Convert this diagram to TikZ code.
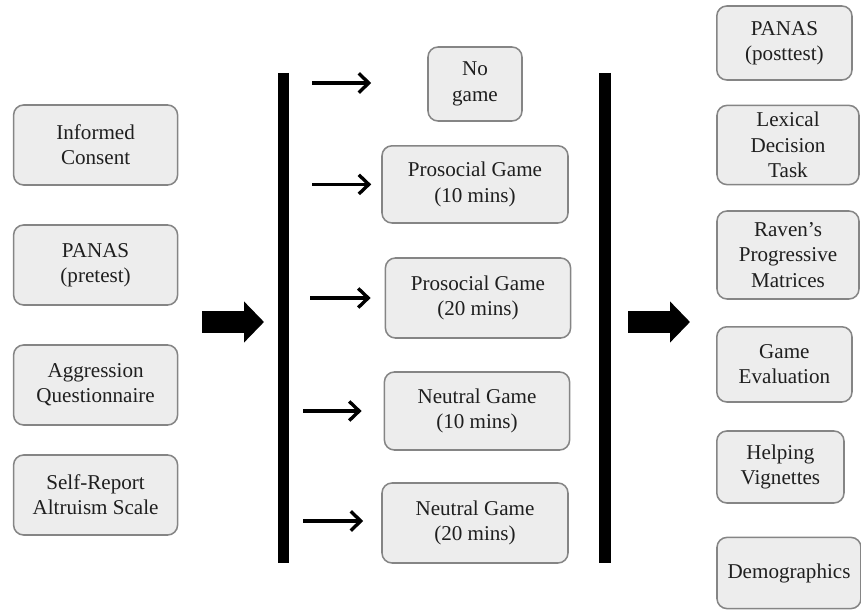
\documentclass[tikz,border=0pt]{standalone}
\usepackage{fontspec}
\setmainfont{Liberation Serif}
\usepackage{tikz}
\usetikzlibrary{positioning, arrows.meta, calc}
\tikzset{
    stepbox/.style={draw=black!48, line width=1.1pt, rounded corners=2.5mm, fill=black!7, align=center, text=black!88, font=\fontsize{15}{18}\selectfont, inner sep=2pt},
    phasebar/.style={line width=0.28cm},
    bigarrow/.style={line width=0.53cm, -{Triangle[length=0.5cm, width=1cm]}},
    condarrow/.style={line width=2.4pt, -{Straight Barb[length=2.5mm, width=4.8mm, line width=2.4pt]}},
}

\begin{document}
\begin{tikzpicture}
    \useasboundingbox (0,0) rectangle (21.525,-15.25);
    % pretest
    \node[stepbox, minimum width=4.1cm, minimum height=2cm] (consent) at (2.39,-3.625)  {Informed\\ Consent};
    \node[stepbox, minimum width=4.1cm, minimum height=2cm] (panaspre) at (2.39,-6.625) {PANAS\\ (pretest)};
    \node[stepbox, minimum width=4.1cm, minimum height=2cm] (aggr) at (2.39,-9.625)    {Aggression\\ Questionnaire};
    \node[stepbox, minimum width=4.1cm, minimum height=2cm] (sra) at (2.39,-12.375)    {Self-Report\\ Altruism Scale};
    % conditions
    \node[stepbox, minimum width=2.35cm, minimum height=1.85cm] (nogame) at (11.875,-2.1) {No\\ game};
    \node[stepbox, minimum width=4.65cm, minimum height=1.93cm] (pro10) at (11.875,-4.61) {Prosocial Game\\ (10 mins)};
    \node[stepbox, minimum width=4.63cm, minimum height=2cm] (pro20) at (11.95,-7.45)     {Prosocial Game\\ (20 mins)};
    \node[stepbox, minimum width=4.63cm, minimum height=1.95cm] (neu10) at (11.925,-10.275) {Neutral Game\\ (10 mins)};
    \node[stepbox, minimum width=4.65cm, minimum height=2cm] (neu20) at (11.875,-13.075)  {Neutral Game\\ (20 mins)};
    % posttest
    \node[stepbox, minimum width=3.38cm, minimum height=1.85cm] (panaspost) at (19.61,-1.075) {PANAS\\ (posttest)};
    \node[stepbox, minimum width=3.55cm, minimum height=1.98cm] (ldt) at (19.7,-3.625)    {Lexical\\ Decision\\ Task};
    \node[stepbox, minimum width=3.55cm, minimum height=2.2cm] (raven) at (19.7,-6.375)   {Raven's\\ Progressive\\ Matrices};
    \node[stepbox, minimum width=3.38cm, minimum height=1.88cm] (gameeval) at (19.61,-9.11) {Game\\ Evaluation};
    \node[stepbox, minimum width=3.18cm, minimum height=1.8cm] (helping) at (19.51,-11.675) {Helping\\ Vignettes};
    \node[stepbox, minimum width=3.6cm, minimum height=1.78cm] (demo) at (19.725,-14.325) {Demographics};

    % phase separators
    \coordinate (b1top) at (7.09,-1.825);
    \coordinate (b1bot) at (7.09,-14.075);
    \coordinate (b2top) at (15.125,-1.825);
    \coordinate (b2bot) at (15.125,-14.075);
    \draw[phasebar] (b1top) -- (b1bot);
    \draw[phasebar] (b2top) -- (b2bot);

    \coordinate (in1) at (5.05,-8.05);
    \coordinate (in2) at (6.6,-8.05);
    \coordinate (out1) at (15.7,-8.05);
    \coordinate (out2) at (17.25,-8.05);
    \draw[bigarrow] (in1) -- (in2);
    \draw[bigarrow] (out1) -- (out2);

    % assignment arrows
    \coordinate (t1) at (7.8,-2.075);
    \coordinate (t2) at (7.8,-4.61);
    \coordinate (t3) at (7.75,-7.45);
    \coordinate (t4) at (7.575,-10.275);
    \coordinate (t5) at (7.575,-13.025);
    \draw[condarrow, shorten >=1.4cm] (t1) -- (t1 -| nogame.west);
    \draw[condarrow, shorten >=0.25cm] (t2) -- (pro10);
    \draw[condarrow, shorten >=0.35cm] (t3) -- (pro20);
    \draw[condarrow, shorten >=0.55cm] (t4) -- (neu10);
    \draw[condarrow, shorten >=0.45cm] (t5) -- (t5 -| neu20.west);
\end{tikzpicture}
\end{document}
